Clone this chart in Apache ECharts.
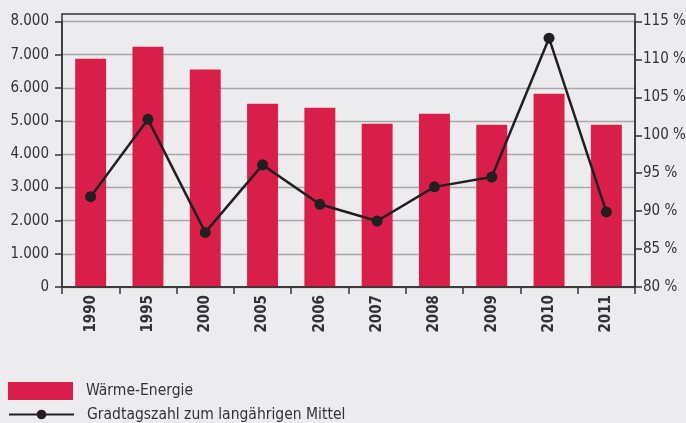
<!DOCTYPE html>
<html>
<head>
<meta charset="utf-8">
<script src="https://cdn.jsdelivr.net/npm/echarts@6/dist/echarts.min.js"></script>
<style>
  html, body { margin: 0; padding: 0; background: #ececee; }
  #chart { width: 686px; height: 423px; }
</style>
</head>
<body>
<div id="chart"></div>
<script>
// data
var years = ['1990', '1995', '2000', '2005', '2006', '2007', '2008', '2009', '2010', '2011'];
var waermeEnergie = [6880, 7240, 6550, 5520, 5400, 4920, 5220, 4890, 5820, 4890];
var gradtagszahl = [91.9, 102.1, 87.2, 96.1, 90.9, 88.7, 93.2, 94.5, 112.8, 89.9];
var seriesNames = ['Wärme-Energie', 'Gradtagszahl zum langährigen Mittel'];

var font = "'DejaVu Sans Condensed', 'Liberation Sans Narrow', 'Roboto', sans-serif";
var textColor = '#333333';

var chart = echarts.init(document.getElementById('chart'));

var legendText = { fontFamily: font, fontSize: 15.5, color: textColor, padding: [0, 0, 0, 8] };

var option = {
  backgroundColor: '#ececee',
  textStyle: { fontFamily: font, color: textColor },
  animation: false,
  grid: {
    left: 62,
    right: 51,
    top: 21.5,
    bottom: 136,
    containLabel: false,
    outerBoundsMode: 'none'
  },
  legend: [
    {
      left: 8,
      top: 382,
      padding: 0,
      itemWidth: 65,
      itemHeight: 18,
      textStyle: { fontFamily: font, fontSize: 15.5, color: textColor, padding: [4, 0, 0, 8] },
      data: [{ name: seriesNames[0], icon: 'rect' }]
    },
    {
      left: 8,
      top: 406.5,
      padding: 0,
      itemWidth: 65,
      itemHeight: 12,
      textStyle: legendText,
      data: [{ name: seriesNames[1] }]
    }
  ],
  xAxis: {
    type: 'category',
    data: years,
    axisLine: { lineStyle: { color: '#333', width: 1.5 } },
    axisTick: { show: true, length: 7, lineStyle: { color: '#333', width: 1.5 } },
    axisLabel: {
      rotate: 90,
      margin: 8,
      fontFamily: font,
      fontSize: 15,
      fontWeight: 'bold',
      color: textColor
    }
  },
  yAxis: [
    {
      type: 'value',
      min: 0,
      max: 8000,
      interval: 1000,
      axisLine: { show: true, lineStyle: { color: '#333', width: 1.5 } },
      axisTick: { show: true, length: 7, lineStyle: { color: '#333', width: 1.5 } },
      splitLine: { show: true, lineStyle: { color: '#a8a8a8', width: 1.3 } },
      axisLabel: {
        margin: 13,
        fontFamily: font,
        fontSize: 15,
        color: textColor,
        formatter: function (v) {
          return String(v).replace(/\B(?=(\d{3})+(?!\d))/g, '.');
        }
      }
    },
    {
      type: 'value',
      min: 80,
      max: 115,
      interval: 5,
      position: 'right',
      axisLine: { show: true, lineStyle: { color: '#333', width: 1.5 } },
      axisTick: { show: true, length: 7, lineStyle: { color: '#333', width: 1.5 } },
      splitLine: { show: false },
      axisLabel: {
        margin: 8,
        fontFamily: font,
        fontSize: 15,
        color: textColor,
        formatter: '{value} %'
      }
    }
  ],
  graphic: [
    {
      type: 'rect',
      silent: true,
      shape: { x: 62, y: 14, width: 573, height: 273 },
      style: { fill: 'none', stroke: '#333', lineWidth: 1.5 },
      z: 100
    }
  ],
  series: [
    {
      name: seriesNames[0],
      type: 'bar',
      barWidth: '54%',
      itemStyle: { color: '#d91f49' },
      data: waermeEnergie
    },
    {
      name: seriesNames[1],
      type: 'line',
      yAxisIndex: 1,
      symbol: 'circle',
      symbolSize: 11,
      lineStyle: { color: '#231f20', width: 2.5 },
      itemStyle: { color: '#231f20' },
      data: gradtagszahl,
      z: 5
    }
  ]
};

chart.setOption(option);
</script>
</body>
</html>
